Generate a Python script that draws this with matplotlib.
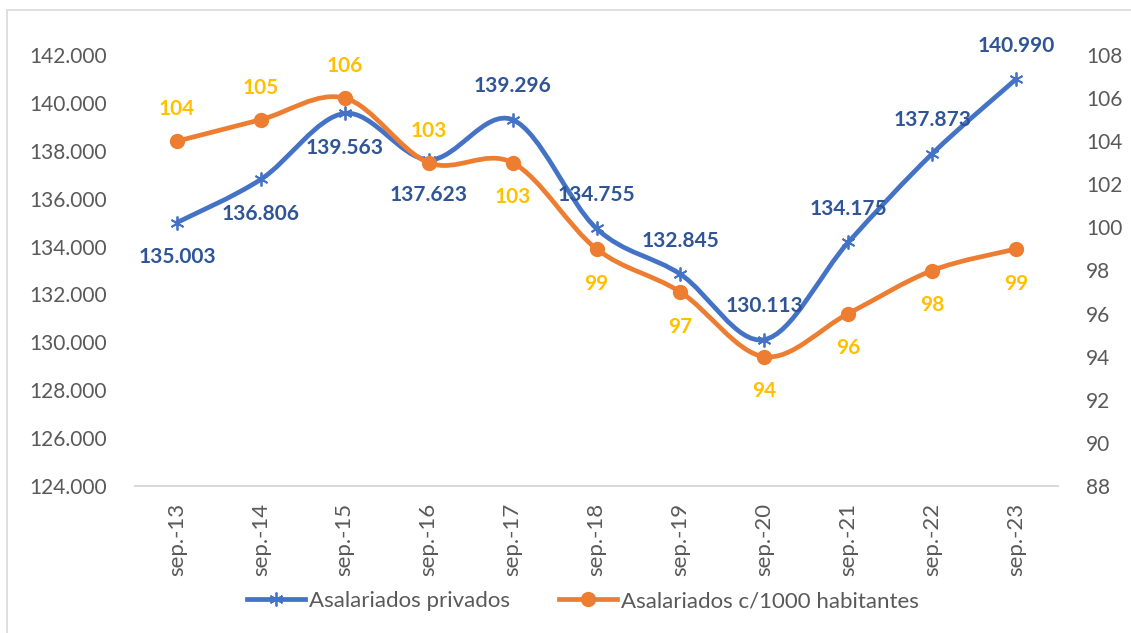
import matplotlib

matplotlib.use("Agg")
import matplotlib.pyplot as plt
from matplotlib.lines import Line2D
from matplotlib.patches import PathPatch, Rectangle
from matplotlib.path import Path
from matplotlib.ticker import FuncFormatter

# data
periods = ["sep.-13", "sep.-14", "sep.-15", "sep.-16", "sep.-17", "sep.-18",
           "sep.-19", "sep.-20", "sep.-21", "sep.-22", "sep.-23"]
asalariados = [135003, 136806, 139563, 137623, 139296, 134755,
               132845, 130113, 134175, 137873, 140990]
por_mil_hab = [104, 105, 106, 103, 103, 99, 97, 94, 96, 98, 99]

# label placement: True = above the point
blue_above = [False, False, False, False, True, True, True, True, True, True, True]
orange_above = [True, True, True, True, False, False, False, False, False, False, False]

BLUE = "#4472C4"
BLUE_TXT = "#2F5597"
ORANGE = "#ED7D31"
GOLD = "#FFC000"
GREY = "#595959"

plt.rcParams["font.family"] = ["Lato", "DejaVu Sans"]


def thousands(v, _pos=None):
    return f"{v:,.0f}".replace(",", ".")


def smooth_path(xs, ys):
    # Excel-style smoothed line: cubic Bezier segments through every point
    n = len(xs)
    verts = [(xs[0], ys[0])]
    codes = [Path.MOVETO]
    for i in range(n - 1):
        a = max(i - 1, 0)
        d = min(i + 2, n - 1)
        c1 = (xs[i] + (xs[i + 1] - xs[a]) / 6, ys[i] + (ys[i + 1] - ys[a]) / 6)
        c2 = (xs[i + 1] - (xs[d] - xs[i]) / 6, ys[i + 1] - (ys[d] - ys[i]) / 6)
        verts += [c1, c2, (xs[i + 1], ys[i + 1])]
        codes += [Path.CURVE4] * 3
    return Path(verts, codes)


fig = plt.figure(figsize=(11.31, 6.33), dpi=100)
fig.patches.append(Rectangle((7 / 1131, -0.05), 1.1, 1.05 - 10 / 633,
                             transform=fig.transFigure, fill=False,
                             edgecolor="#D9D9D9", linewidth=1.2))

ax = fig.add_axes([135 / 1131, 1 - 486 / 633, (1058 - 135) / 1131, (486 - 55) / 633])
ax2 = ax.twinx()

x = list(range(len(periods)))

ax.add_patch(PathPatch(smooth_path(x, asalariados), fill=False,
                       edgecolor=BLUE, linewidth=3.4, capstyle="round"))
ax.plot(x, asalariados, linestyle="none", marker=(6, 2, 0), markersize=10,
        markeredgecolor=BLUE, markeredgewidth=1.3)

ax2.add_patch(PathPatch(smooth_path(x, por_mil_hab), fill=False,
                        edgecolor=ORANGE, linewidth=3.4, capstyle="round"))
ax2.plot(x, por_mil_hab, linestyle="none", marker="o", markersize=10,
         color=ORANGE)

for xi, v, up in zip(x, asalariados, blue_above):
    ax.annotate(thousands(v), (xi, v), xytext=(0, 24 if up else -25),
                textcoords="offset points", ha="center", va="center",
                fontsize=15, fontweight="bold", color=BLUE_TXT)

for xi, v, up in zip(x, por_mil_hab, orange_above):
    ax2.annotate(str(v), (xi, v), xytext=(0, 23 if up else -25),
                 textcoords="offset points", ha="center", va="center",
                 fontsize=15, fontweight="bold", color=GOLD)

ax.set_xlim(-0.5, len(periods) - 0.5)
ax.set_ylim(124000, 142000)
ax.set_yticks(range(124000, 142001, 2000))
ax.yaxis.set_major_formatter(FuncFormatter(thousands))
ax2.set_ylim(88, 108)
ax2.set_yticks(range(88, 109, 2))

ax.set_xticks(x)
ax.set_xticklabels(periods, rotation=90)
ax.tick_params(axis="x", length=0, pad=12, labelsize=16, labelcolor=GREY)
ax.tick_params(axis="y", length=0, pad=20, labelsize=15, labelcolor=GREY)
ax2.tick_params(axis="y", length=0, pad=20, labelsize=15, labelcolor=GREY)

for a in (ax, ax2):
    for side in ("top", "left", "right"):
        a.spines[side].set_visible(False)
    a.spines["bottom"].set_color("#D9D9D9")
    a.spines["bottom"].set_linewidth(1.2)

handles = [
    Line2D([], [], color=BLUE, linewidth=3.4, marker=(6, 2, 0), markersize=10,
           markeredgewidth=1.3),
    Line2D([], [], color=ORANGE, linewidth=3.4, marker="o", markersize=10),
]
fig.legend(handles, ["Asalariados privados", "Asalariados c/1000 habitantes"],
           loc="center", bbox_to_anchor=(583 / 1131, 1 - 601 / 633), ncol=2,
           frameon=False, fontsize=16, labelcolor=GREY, handlelength=2.6,
           handletextpad=0.2, columnspacing=2.2)

fig.savefig("out.png", dpi=100)
